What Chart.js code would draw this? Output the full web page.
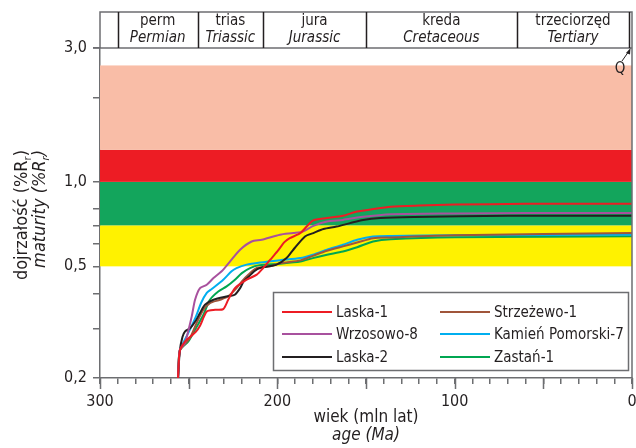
<!DOCTYPE html>
<html>
<head>
<meta charset="utf-8">
<script src="https://cdn.jsdelivr.net/npm/chart.js@4.4.1/dist/chart.umd.min.js"></script>
<style>
  html, body { margin: 0; padding: 0; background: #fff; }
  #wrap { width: 636px; height: 448px; }
</style>
</head>
<body>
<div id="wrap"><canvas id="maturity-chart" width="636" height="448"></canvas></div>
<script>
////// Data /////////
const ageLabels = [300, 200, 100, 0];
const maturityTicks = [0.2, 0.3, 0.4, 0.5, 0.6, 0.7, 0.8, 1, 2, 3];
const maturityLabels = [0.2, 0.5, 1, 3];

// maturity zones (%Rr)
const zoneLimits = [0.5, 0.7, 1.0, 1.3, 2.6];

// stratigraphy (Ma)
const periodLimits = [290, 245, 208, 150, 65, 1.6];
const periodPl = ['perm', 'trias', 'jura', 'kreda', 'trzeciorzęd'];
const periodEn = ['Permian', 'Triassic', 'Jurassic', 'Cretaceous', 'Tertiary'];

const wellNames = ['Laska-1', 'Wrzosowo-8', 'Laska-2', 'Strzeżewo-1', 'Kamień Pomorski-7', 'Zastań-1'];

const laska1Age = [256, 255, 252, 249, 246, 243.6, 239.8, 235, 230.5, 227.7, 223.9, 217.3, 211.6, 208, 204, 200, 196, 193, 187, 180, 172, 163, 155, 146, 136, 120, 100, 60, 0];
const laska1Ro  = [0.2, 0.25, 0.27, 0.281, 0.292, 0.307, 0.345, 0.35, 0.352, 0.38, 0.418, 0.448, 0.467, 0.493, 0.528, 0.565, 0.61, 0.63, 0.657, 0.728, 0.743, 0.757, 0.784, 0.8, 0.815, 0.823, 0.83, 0.835, 0.835];

const wrzosowo8Age = [256, 255, 252.1, 248.3, 246.4, 243.6, 239.8, 236, 231.4, 226.7, 221, 214.5, 208.8, 198.5, 191, 185.3, 179.7, 172, 163, 153, 136, 100, 60, 0];
const wrzosowo8Ro  = [0.2, 0.252, 0.267, 0.331, 0.38, 0.418, 0.43, 0.454, 0.48, 0.52, 0.573, 0.613, 0.622, 0.648, 0.657, 0.666, 0.697, 0.722, 0.732, 0.749, 0.767, 0.772, 0.775, 0.775];

const laska2Age = [256, 255, 253.5, 252, 249.2, 246, 243.6, 240.8, 236, 228, 224, 221, 219, 216.4, 213, 209.8, 200.4, 194.8, 191, 184.4, 179.7, 174, 166.6, 159, 151.6, 142, 123, 70, 0];
const laska2Ro  = [0.2, 0.25, 0.28, 0.293, 0.301, 0.32, 0.341, 0.365, 0.38, 0.391, 0.396, 0.418, 0.442, 0.458, 0.48, 0.493, 0.507, 0.535, 0.573, 0.639, 0.657, 0.679, 0.693, 0.713, 0.732, 0.743, 0.749, 0.757, 0.757];

const strzezewo1Age = [256, 255, 252, 249.2, 245.5, 241.7, 238, 232.3, 227.7, 223, 220, 216.4, 211.6, 204, 198.5, 187, 180, 172, 163, 155, 146, 136, 100, 0];
const strzezewo1Ro  = [0.2, 0.25, 0.265, 0.278, 0.314, 0.35, 0.37, 0.38, 0.391, 0.418, 0.442, 0.467, 0.493, 0.5, 0.513, 0.525, 0.545, 0.568, 0.589, 0.608, 0.63, 0.634, 0.645, 0.657];

const kamien7Age = [256, 255, 252, 249, 246, 243, 239.8, 237, 230.5, 225.8, 223, 217.3, 209.8, 198.5, 187, 180, 172, 163, 155, 146, 136, 100, 0];
const kamien7Ro  = [0.2, 0.25, 0.275, 0.3, 0.33, 0.37, 0.402, 0.415, 0.448, 0.48, 0.493, 0.507, 0.516, 0.526, 0.535, 0.55, 0.573, 0.597, 0.622, 0.639, 0.642, 0.645, 0.648];

const zastan1Age = [256, 255, 250.2, 246.4, 241.7, 238, 233.3, 228.6, 223.9, 220, 215.4, 209.8, 198.5, 187, 180, 172, 163, 155, 146, 136, 100, 0];
const zastan1Ro  = [0.2, 0.25, 0.27, 0.297, 0.336, 0.38, 0.407, 0.424, 0.448, 0.473, 0.493, 0.505, 0.511, 0.52, 0.535, 0.55, 0.565, 0.585, 0.613, 0.625, 0.635, 0.64];

const wellAges = [laska1Age, wrzosowo8Age, laska2Age, strzezewo1Age, kamien7Age, zastan1Age];
const wellRo = [laska1Ro, wrzosowo8Ro, laska2Ro, strzezewo1Ro, kamien7Ro, zastan1Ro];

////// Styles /////////
const FONT = "'DejaVu Sans Condensed', 'Liberation Sans Narrow', sans-serif";
const TEXT = '#231f20';
const AXIS = '#6d6e71';
const wellColors = ['#ed1c24', '#a8519e', '#231f20', '#a0553a', '#00aeef', '#00a651'];
const zoneColors = ['#fff200', '#13a55c', '#ed1c24', '#f9bda7'];

function fmt(v) {
  return v.toFixed(1).replace('.', ',');
}

// draws text made of pieces, some of them subscript
function drawPieces(ctx, pieces, x, y, italic, align, size) {
  let total = 0;
  const subSize = Math.round(size * 0.62);
  pieces.forEach(function (p) {
    ctx.font = (italic ? 'italic ' : '') + (p.sub ? subSize : size) + 'px ' + FONT;
    p.w = ctx.measureText(p.t).width;
    total += p.w;
  });
  let cx = align === 'right' ? x - total : x - total / 2;
  ctx.textAlign = 'left';
  ctx.textBaseline = 'alphabetic';
  pieces.forEach(function (p) {
    ctx.font = (italic ? 'italic ' : '') + (p.sub ? subSize : size) + 'px ' + FONT;
    ctx.fillText(p.t, cx, y + (p.sub ? 4 : 0));
    cx += p.w;
  });
}

const decorPlugin = {
  id: 'decor',
  beforeDatasetsDraw: function (chart) {
    const ctx = chart.ctx, a = chart.chartArea, ys = chart.scales.y;
    ctx.save();
    for (let i = 0; i < zoneColors.length; i++) {
      const top = ys.getPixelForValue(zoneLimits[i + 1]);
      const bot = ys.getPixelForValue(zoneLimits[i]);
      ctx.fillStyle = zoneColors[i];
      ctx.fillRect(a.left, top, a.right - a.left, bot - top);
    }
    ctx.restore();
  },
  afterDraw: function (chart) {
    const ctx = chart.ctx, a = chart.chartArea, xs = chart.scales.x;
    const headTop = 12;
    ctx.save();
    ctx.strokeStyle = AXIS;
    ctx.lineWidth = 1.5;

    // frame + header box
    ctx.beginPath();
    ctx.moveTo(a.left, a.top); ctx.lineTo(a.left, headTop); ctx.lineTo(a.right, headTop);
    ctx.lineTo(a.right, a.bottom);
    ctx.moveTo(a.left - 7, a.top); ctx.lineTo(a.right, a.top);
    ctx.stroke();

    ctx.strokeStyle = TEXT;
    ctx.beginPath();
    periodLimits.forEach(function (m) {
      const px = Math.round(xs.getPixelForValue(m)) + 0.5;
      ctx.moveTo(px, headTop); ctx.lineTo(px, a.top);
    });
    ctx.stroke();

    ctx.fillStyle = TEXT;
    ctx.textAlign = 'center';
    ctx.textBaseline = 'middle';
    for (let i = 0; i < periodPl.length; i++) {
      const cx = (xs.getPixelForValue(periodLimits[i]) + xs.getPixelForValue(periodLimits[i + 1])) / 2;
      ctx.font = '15px ' + FONT;
      ctx.fillText(periodPl[i], cx, headTop + 9);
      ctx.font = 'italic 15px ' + FONT;
      ctx.fillText(periodEn[i], cx, headTop + 26);
    }

    // Q (quaternary) arrow
    ctx.font = '15px ' + FONT;
    ctx.fillText('Q', a.right - 12, 69);
    ctx.beginPath();
    ctx.lineWidth = 1;
    ctx.moveTo(a.right - 10, 61); ctx.lineTo(a.right - 3, 51);
    ctx.stroke();
    ctx.beginPath();
    ctx.moveTo(a.right - 1.5, a.top); ctx.lineTo(a.right - 6, a.top + 5); ctx.lineTo(a.right - 2, a.top + 6.5); ctx.closePath();
    ctx.fill();

    // longer x ticks every 50 Ma
    ctx.strokeStyle = AXIS;
    ctx.lineWidth = 1.5;
    ctx.beginPath();
    for (let m = 0; m <= 300; m += 50) {
      const px = Math.round(xs.getPixelForValue(m)) + 0.5;
      ctx.moveTo(px, a.bottom); ctx.lineTo(px, a.bottom + 11);
    }
    ctx.stroke();

    // legend box
    const lx = 273, ly = 292, lw = 355, lh = 78;
    ctx.fillStyle = '#fff';
    ctx.fillRect(lx, ly, lw, lh);
    ctx.strokeStyle = AXIS;
    ctx.strokeRect(lx + 0.5, ly + 0.5, lw, lh);
    const rowY = [312, 334, 357];
    const colX = [282, 440];
    ctx.font = '15px ' + FONT;
    ctx.textAlign = 'left';
    ctx.textBaseline = 'middle';
    wellNames.forEach(function (name, i) {
      const c = Math.floor(i / 3), r = i % 3;
      ctx.strokeStyle = wellColors[i];
      ctx.lineWidth = 2;
      ctx.beginPath();
      ctx.moveTo(colX[c], rowY[r]); ctx.lineTo(colX[c] + 50, rowY[r]);
      ctx.stroke();
      ctx.fillStyle = TEXT;
      ctx.fillText(name, colX[c] + 54, rowY[r] + 1);
    });

    // axis titles
    ctx.fillStyle = TEXT;
    ctx.textAlign = 'center';
    ctx.font = '17px ' + FONT;
    ctx.fillText('wiek (mln lat)', (a.left + a.right) / 2, 418);
    ctx.font = 'italic 17px ' + FONT;
    ctx.fillText('age (Ma)', (a.left + a.right) / 2, 436);

    ctx.save();
    ctx.rotate(-Math.PI / 2);
    drawPieces(ctx, [{ t: 'dojrzałość (%R' }, { t: 'r', sub: true }, { t: ')' }], -150, 27, false, 'right', 18);
    drawPieces(ctx, [{ t: 'maturity (%R' }, { t: 'r', sub: true }, { t: ')' }], -150, 45, true, 'right', 18);
    ctx.restore();

    ctx.restore();
  }
};

////// Start Maturity Chart /////////
const datasets = wellNames.map(function (name, i) {
  return {
    label: name,
    data: wellAges[i].map(function (age, j) { return { x: age, y: wellRo[i][j] }; }),
    borderColor: wellColors[i],
    borderWidth: 2,
    pointRadius: 0,
    tension: 0.25,
    fill: false
  };
});

Chart.defaults.font.family = FONT;
Chart.defaults.color = TEXT;

const ctx_maturity = document.getElementById('maturity-chart');
new Chart(ctx_maturity, {
  type: 'line',
  data: { datasets: datasets },
  options: {
    responsive: false,
    animation: false,
    events: [],
    layout: { padding: { top: 48, right: 4, left: 0, bottom: 0 } },
    plugins: {
      legend: { display: false },
      tooltip: { enabled: false }
    },
    scales: {
      x: {
        type: 'linear',
        reverse: true,
        min: 0,
        max: 300,
        afterFit: function (scale) {
          scale.height = 70;
          scale.paddingLeft = 0;
          scale.paddingRight = 0;
        },
        ticks: {
          stepSize: 10,
          autoSkip: false,
          maxRotation: 0,
          padding: 8,
          font: { size: 16 },
          callback: function (v) { return ageLabels.indexOf(v) >= 0 ? String(v) : ''; }
        },
        grid: { drawOnChartArea: false, tickLength: 6, color: AXIS, lineWidth: 1.5 },
        border: { color: AXIS, width: 1.5 }
      },
      y: {
        type: 'logarithmic',
        min: 0.2,
        max: 3,
        afterFit: function (scale) { scale.width = 100; },
        afterBuildTicks: function (scale) {
          scale.ticks = maturityTicks.map(function (v) { return { value: v }; });
        },
        ticks: {
          autoSkip: false,
          padding: 6,
          font: { size: 16 },
          callback: function (v) { return maturityLabels.indexOf(v) >= 0 ? fmt(v) : ''; }
        },
        grid: { drawOnChartArea: false, tickLength: 7, color: AXIS, lineWidth: 1.5 },
        border: { color: AXIS, width: 1.5 }
      }
    }
  },
  plugins: [decorPlugin]
});
////// End Maturity Chart /////////
</script>
</body>
</html>
